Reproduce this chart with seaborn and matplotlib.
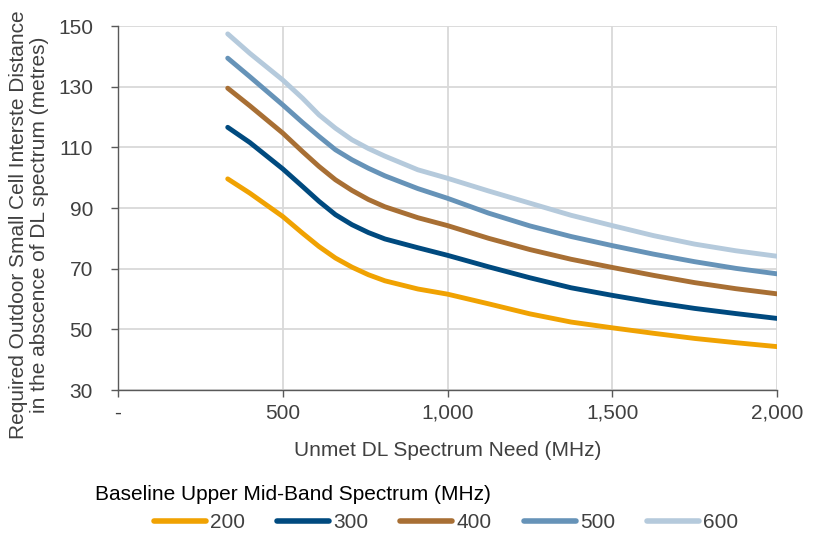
import matplotlib
matplotlib.use("Agg")
import matplotlib.pyplot as plt
from matplotlib.ticker import FuncFormatter, FixedLocator
from matplotlib.lines import Line2D
import seaborn as sns
import pandas as pd

# Unmet DL spectrum need (MHz)
need_mhz = [333, 400, 500, 560, 610, 660, 710, 760, 810, 910,
            1000, 1125, 1250, 1375, 1500, 1625, 1750, 1875, 2000]

# Required inter-site distance (m) per baseline upper mid-band spectrum
isd_200 = [99.6, 94.9, 87.2, 81.7, 77.3, 73.5, 70.5, 68.0, 66.0, 63.3,
           61.6, 58.4, 55.1, 52.4, 50.5, 48.7, 47.0, 45.6, 44.3]
isd_300 = [116.6, 111.6, 102.9, 97.1, 92.2, 87.8, 84.5, 81.9, 79.8, 76.9,
           74.4, 70.6, 67.0, 63.7, 61.2, 58.9, 56.9, 55.2, 53.6]
isd_400 = [129.5, 123.7, 114.7, 108.6, 103.7, 99.3, 95.8, 92.8, 90.4, 86.8,
           84.2, 80.0, 76.3, 73.1, 70.4, 67.8, 65.4, 63.4, 61.7]
isd_500 = [139.4, 133.3, 124.0, 118.2, 113.6, 109.2, 105.9, 103.1, 100.6, 96.4,
           93.2, 88.3, 84.1, 80.6, 77.6, 74.8, 72.3, 70.1, 68.3]
isd_600 = [147.4, 141.0, 132.2, 126.2, 120.7, 116.3, 112.5, 109.6, 107.1, 102.6,
           99.8, 95.6, 91.6, 87.6, 84.2, 80.9, 78.1, 75.9, 74.1]

baselines = ["200", "300", "400", "500", "600"]
series = [isd_200, isd_300, isd_400, isd_500, isd_600]
colors = ["#F0A202", "#004A7F", "#A86F34", "#6693B8", "#B5CADC"]

x_ticks = [0, 500, 1000, 1500, 2000]
y_ticks = [30, 50, 70, 90, 110, 130, 150]

rows = []
for name, vals in zip(baselines, series):
    for x, y in zip(need_mhz, vals):
        rows.append({"need": x, "isd": y, "baseline": name})
df = pd.DataFrame(rows)

sns.set_theme(style="white")
plt.rcParams["font.family"] = ["Liberation Sans", "DejaVu Sans"]

W, H = 813, 535
fs = 15
text_color = "#404040"
fig = plt.figure(figsize=(W / 100, H / 100), dpi=100)
ax = fig.add_axes([118 / W, 1 - 390 / H, 659 / W, 364 / H])

sns.lineplot(data=df, x="need", y="isd", hue="baseline", hue_order=baselines,
             palette=colors, linewidth=3.5, legend=False, ax=ax,
             solid_capstyle="round", solid_joinstyle="round")

ax.set_xlim(0, 2000)
ax.set_ylim(30, 150)
ax.xaxis.set_major_locator(FixedLocator(x_ticks))
ax.yaxis.set_major_locator(FixedLocator(y_ticks))
ax.xaxis.set_major_formatter(FuncFormatter(lambda v, p: "-" if v == 0 else f"{int(v):,}"))
ax.yaxis.set_major_formatter(FuncFormatter(lambda v, p: f"{int(v)}"))

ax.grid(True, color="#D9D9D9", linewidth=1.3)
ax.set_axisbelow(True)
for s in ["top", "right"]:
    ax.spines[s].set_visible(False)
for s in ["left", "bottom"]:
    ax.spines[s].set_color("#595959")
    ax.spines[s].set_linewidth(1.0)
ax.tick_params(axis="both", which="major", direction="out", length=5, width=1.0,
               color="#595959", labelsize=fs, labelcolor=text_color,
               bottom=True, left=True)
ax.tick_params(axis="y", pad=13)
ax.tick_params(axis="x", pad=5)
ax.set_xlabel("")
ax.set_ylabel("")

fig.text(448 / W, 1 - 450 / H, "Unmet DL Spectrum Need (MHz)",
         fontsize=fs, color=text_color, ha="center", va="center")
fig.text(29 / W, 1 - 225 / H,
         "Required Outdoor Small Cell Interste Distance\nin the abscence of DL spectrum (metres)",
         fontsize=fs, color=text_color, ha="center", va="center", rotation=90,
         linespacing=1.1, multialignment="center")

fig.text(95 / W, 1 - 495 / H, "Baseline Upper Mid-Band Spectrum (MHz)",
         fontsize=fs, color="black", ha="left", va="center")

handles = [Line2D([0], [0], color=c, linewidth=4.0, solid_capstyle="round") for c in colors]
fig.legend(handles, baselines, loc="center", bbox_to_anchor=(446 / W, 1 - 523 / H),
           ncol=5, frameon=False, fontsize=fs, handlelength=2.5, handletextpad=0.2,
           columnspacing=1.53, labelcolor=text_color, borderpad=0, borderaxespad=0)

fig.savefig("out.png", dpi=100)
